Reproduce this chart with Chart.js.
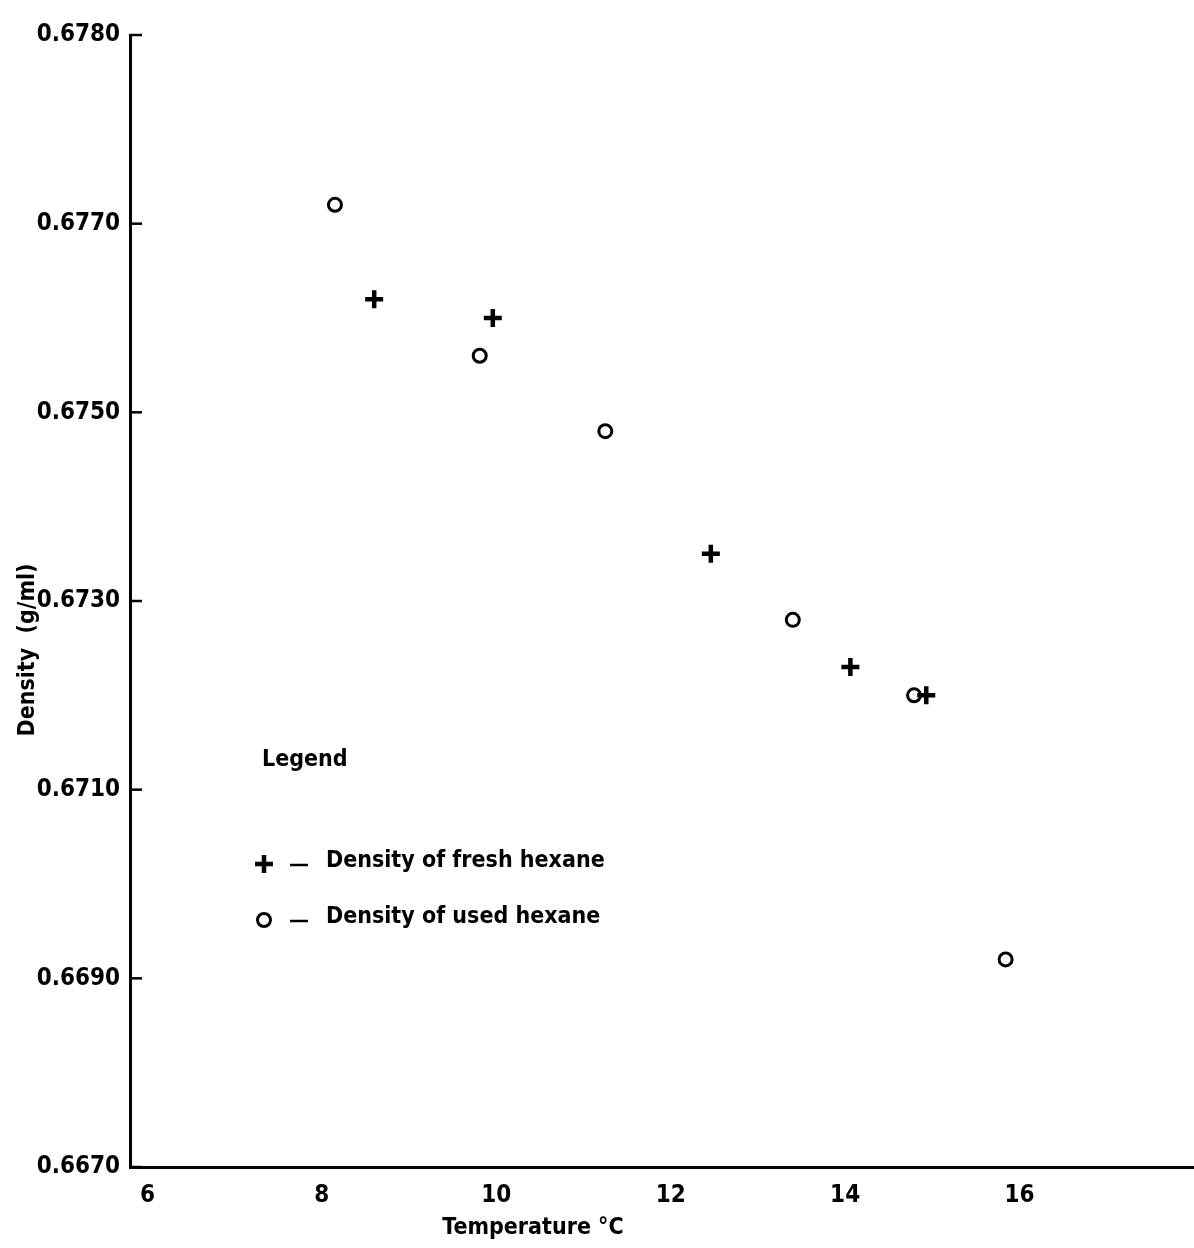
<!DOCTYPE html>
<html>
<head>
<meta charset="utf-8">
<script src="https://cdn.jsdelivr.net/npm/chart.js@4.4.1/dist/chart.umd.min.js"></script>
<style>
  html, body { margin: 0; padding: 0; background: #fff; overflow: hidden; }
  #c { display: block; position: absolute; left: 0; top: 0; }
</style>
</head>
<body>
<canvas id="c" width="1194" height="1248"></canvas>
<script>
// ---- data ----
const freshLabel = 'Density of fresh hexane';
const usedLabel = 'Density of used hexane';
const freshTemp = [8.60, 9.96, 12.46, 14.06, 14.93];
const freshDensity = [0.6762, 0.6760, 0.6735, 0.6723, 0.6720];
const usedTemp = [8.15, 9.81, 11.25, 13.40, 14.79, 15.84];
const usedDensity = [0.6772, 0.6756, 0.6748, 0.6728, 0.6720, 0.6692];
const xTickValues = [6, 8, 10, 12, 14, 16];
const yTickValues = [0.6670, 0.6690, 0.6710, 0.6730, 0.6750, 0.6770, 0.6790];
const yTickLabels = ['0.6670', '0.6690', '0.6710', '0.6730', '0.6750', '0.6770', '0.6780'];
const xTitle = 'Temperature °C';
const yTitle = 'Density  (g/ml)';
const legendTitle = 'Legend';

const FONT = "'Liberation Sans Narrow', 'DejaVu Sans Condensed', 'Roboto', sans-serif";

const toPoints = (xs, ys) => xs.map((x, i) => ({ x: x, y: ys[i] }));

const decorPlugin = {
  id: 'decor',
  afterDraw(chart) {
    const ctx = chart.ctx;
    const area = chart.chartArea;
    const ys = chart.scales.y;
    ctx.save();
    // inward y tick marks
    ctx.strokeStyle = '#000';
    ctx.lineWidth = 2.5;
    ys.ticks.forEach(t => {
      const py = ys.getPixelForValue(t.value);
      ctx.beginPath();
      ctx.moveTo(area.left, py);
      ctx.lineTo(area.left + 12, py);
      ctx.stroke();
    });
    ctx.fillStyle = '#000';
    // y title (rotated)
    ctx.save();
    ctx.translate(28, 650);
    ctx.rotate(-Math.PI / 2);
    ctx.font = 'bold 23px ' + FONT;
    ctx.textAlign = 'center';
    ctx.textBaseline = 'middle';
    ctx.fillText(yTitle, 0, 0);
    ctx.restore();
    // x title
    ctx.font = 'bold 23px ' + FONT;
    ctx.textAlign = 'center';
    ctx.textBaseline = 'middle';
    ctx.fillText(xTitle, 533, 1228);
    // legend
    ctx.textAlign = 'left';
    ctx.font = 'bold 23px ' + FONT;
    ctx.fillText(legendTitle, 262, 760);
    const rows = [
      { ds: chart.data.datasets[0], y: 864 },
      { ds: chart.data.datasets[1], y: 920 }
    ];
    rows.forEach(r => {
      const ds = r.ds;
      ctx.save();
      ctx.strokeStyle = '#000';
      ctx.fillStyle = 'rgba(0,0,0,0)';
      ctx.lineWidth = ds.borderWidth;
      Chart.helpers.drawPoint(ctx, {
        pointStyle: ds.pointStyle,
        radius: ds.pointRadius,
        borderWidth: ds.borderWidth,
        rotation: 0
      }, 264, r.y);
      ctx.restore();
      ctx.strokeStyle = '#000';
      ctx.lineWidth = 2.5;
      ctx.beginPath();
      ctx.moveTo(290, r.y + 1);
      ctx.lineTo(308, r.y + 1);
      ctx.stroke();
      ctx.fillStyle = '#000';
      ctx.fillText(ds.label, 326, r.y - 3);
    });
    ctx.restore();
  }
};

new Chart(document.getElementById('c'), {
  type: 'scatter',
  data: {
    datasets: [
      {
        label: freshLabel,
        data: toPoints(freshTemp, freshDensity),
        pointStyle: 'cross',
        pointRadius: 9,
        pointHoverRadius: 9,
        borderWidth: 4.5,
        borderColor: '#000',
        backgroundColor: '#000'
      },
      {
        label: usedLabel,
        data: toPoints(usedTemp, usedDensity),
        pointStyle: 'circle',
        pointRadius: 6.5,
        pointHoverRadius: 6.5,
        borderWidth: 3,
        borderColor: '#000',
        backgroundColor: 'rgba(255,255,255,0)'
      }
    ]
  },
  options: {
    responsive: false,
    maintainAspectRatio: false,
    devicePixelRatio: 1,
    animation: false,
    events: [],
    layout: { autoPadding: false, padding: { top: 35, right: 0, left: 0, bottom: 0 } },
    plugins: {
      legend: { display: false },
      tooltip: { enabled: false }
    },
    scales: {
      x: {
        type: 'linear',
        min: 5.8,
        max: 18,
        afterBuildTicks: s => { s.ticks = xTickValues.map(v => ({ value: v })); },
        afterFit: s => { s.height = 81; s.paddingLeft = 0; s.paddingRight = 0; },
        grid: { display: false, drawTicks: false },
        border: { display: true, color: '#000', width: 3 },
        ticks: {
          padding: 14,
          color: '#000',
          font: { family: FONT, size: 24, weight: 'bold' },
          callback: v => String(v)
        }
      },
      y: {
        type: 'linear',
        min: 0.6670,
        max: 0.6790,
        afterBuildTicks: s => { s.ticks = yTickValues.map(v => ({ value: v })); },
        afterFit: s => { s.width = 130; s.paddingTop = 0; s.paddingBottom = 0; },
        grid: { display: false, drawTicks: false },
        border: { display: true, color: '#000', width: 3 },
        ticks: {
          padding: 10,
          color: '#000',
          font: { family: FONT, size: 24, weight: 'bold' },
          callback: (v, i) => yTickLabels[i]
        }
      }
    }
  },
  plugins: [decorPlugin]
});
</script>
</body>
</html>
